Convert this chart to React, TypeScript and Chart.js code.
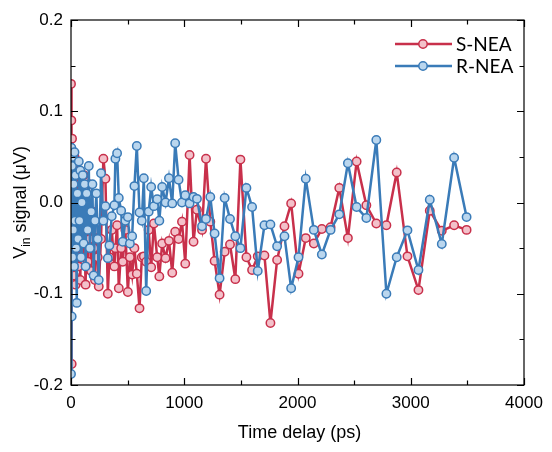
import React, { useEffect, useRef } from "react";
import { Chart, registerables } from "chart.js";

Chart.register(...registerables);

// ---- data (time delay in ps, signal in µV) ----
const delays = [
  0, 3, 6, 9, 12, 15, 19, 23, 27, 31,
  36, 41, 46, 51, 57, 63, 69, 75, 82, 89,
  96, 104, 112, 120, 129, 138, 147, 157, 167, 178,
  189, 200, 212, 224, 236, 245, 265, 286, 304, 325,
  339, 360, 383, 392, 407, 422, 443, 457, 480, 502,
  520, 540, 560, 581, 605, 625, 643, 664, 686, 708,
  732, 761, 780, 805, 835, 865, 894, 920, 950, 980,
  1009, 1047, 1082, 1112, 1157, 1192, 1230, 1268, 1312, 1357,
  1404, 1451, 1496, 1549, 1599, 1649, 1708, 1761, 1820, 1885,
  1944, 2009, 2073, 2144, 2215, 2292, 2369, 2445, 2522, 2608,
  2696, 2785, 2876, 2971, 3068, 3168, 3274, 3383, 3493,
];

const sNEA = [
  0.13, 0.09, -0.177, 0.07, -0.03, 0.04, -0.06, 0.02, -0.08, 0.05,
  -0.04, -0.09, 0.01, -0.05, 0.045, -0.07, -0.02, 0.035, -0.085, -0.03,
  0.0, -0.06, 0.03, -0.045, -0.09, -0.02, -0.065, 0.02, -0.04, -0.075,
  -0.01, -0.05, -0.085, -0.03, -0.06, -0.092, -0.04, 0.048, 0.026, -0.1,
  -0.06, -0.03, -0.07, -0.05, -0.025, -0.094, -0.05, -0.065, -0.03, -0.098,
  -0.06, -0.079, -0.05, -0.078, -0.116, -0.06, -0.059, -0.065, -0.03, -0.071,
  -0.023, -0.06, -0.081, -0.045, -0.061, -0.042, -0.077, -0.032, -0.04, -0.021,
  -0.067, 0.052, -0.043, -0.008, -0.03, 0.048, -0.021, -0.064, -0.101, -0.054,
  -0.046, -0.084, 0.047, -0.06, -0.074, -0.059, -0.058, -0.132, -0.063, -0.026,
  -0.001, -0.078, -0.039, -0.045, -0.029, -0.027, 0.016, -0.039, 0.045, -0.003,
  -0.023, -0.025, 0.033, -0.059, -0.096, -0.009, -0.031, -0.025, -0.03,
];

const rNEA = [
  -0.188, 0.06, -0.125, 0.04, -0.06, 0.05, -0.03, 0.02, -0.07, 0.055,
  -0.02, 0.03, -0.05, -0.11, 0.01, -0.04, 0.045, -0.02, 0.035, -0.06,
  0.0, 0.03, -0.045, 0.02, -0.07, 0.01, -0.03, 0.04, -0.05, -0.01,
  0.02, -0.08, -0.02, 0.01, -0.04, -0.085, 0.032, -0.02, -0.004, -0.061,
  -0.047, -0.015, -0.003, 0.048, 0.054, 0.005, -0.009, -0.043, -0.02, -0.016,
  -0.045, -0.037, 0.018, 0.062, -0.011, -0.02, 0.0265, -0.097, -0.01, 0.017,
  -0.004, 0.0035, -0.02, 0.017, 0.0, 0.0265, -0.001, 0.065, 0.025, 0.0,
  0.008, -0.001, 0.006, 0.004, -0.026, -0.018, 0.006, -0.034, -0.083, 0.005,
  -0.018, -0.037, -0.05, 0.016, -0.005, -0.075, -0.025, -0.024, -0.048, -0.037,
  -0.094, -0.06, 0.026, -0.03, -0.057, -0.03, -0.013, 0.043, -0.005, -0.017,
  0.0685, -0.1, -0.06, -0.0305, -0.074, 0.003, -0.0455, 0.049, -0.016,
];

const seriesNames = ["S-NEA", "R-NEA"];
const xRange = [0, 4000];
const yRange = [-0.2, 0.2];

// ---- style ----
const RED = "#C8304B";
const RED_FILL = "#F3C1CA";
const BLUE = "#3A7BB8";
const BLUE_FILL = "#BAD6EE";
const FONT = "'Liberation Sans', Arial, sans-serif";
const LEGEND_FONT = "'Liberation Sans Narrow', 'Arial Narrow', Lato, sans-serif";

const framePlugin = {
  id: "frame",
  afterDraw(chart: any) {
    const { ctx, chartArea: a, scales } = chart;
    const xs = scales.x;
    const ys = scales.y;
    ctx.save();
    ctx.strokeStyle = "#000";
    ctx.lineWidth = 1.2;
    ctx.strokeRect(a.left, a.top, a.right - a.left, a.bottom - a.top);
    ctx.beginPath();
    xs.ticks.forEach((t: any) => {
      const major = Math.round(t.value) % 1000 === 0;
      const len = major ? 7 : 4.5;
      const px = Math.round(xs.getPixelForValue(t.value)) + 0.5;
      ctx.moveTo(px, a.bottom);
      ctx.lineTo(px, a.bottom - len);
      ctx.moveTo(px, a.top);
      ctx.lineTo(px, a.top + len);
    });
    ys.ticks.forEach((t: any) => {
      const major = Math.round(t.value * 100) % 10 === 0;
      const len = major ? 7 : 4.5;
      const py = Math.round(ys.getPixelForValue(t.value)) + 0.5;
      ctx.moveTo(a.left, py);
      ctx.lineTo(a.left + len, py);
      ctx.moveTo(a.right, py);
      ctx.lineTo(a.right - len, py);
    });
    ctx.stroke();

    // x title
    ctx.fillStyle = "#000";
    ctx.font = `18px ${FONT}`;
    ctx.textAlign = "center";
    ctx.textBaseline = "alphabetic";
    ctx.fillText("Time delay (ps)", (a.left + a.right) / 2 + 2, 438);

    // y title with subscript
    ctx.save();
    ctx.translate(20, (a.top + a.bottom) / 2);
    ctx.rotate(-Math.PI / 2);
    const big = `18px ${FONT}`;
    const small = `12px ${FONT}`;
    ctx.textAlign = "left";
    ctx.textBaseline = "alphabetic";
    ctx.font = big;
    const w1 = ctx.measureText("V").width;
    const w3 = ctx.measureText(" signal (\u03BCV)").width;
    ctx.font = small;
    const w2 = ctx.measureText("in").width;
    let sx = -(w1 + w2 + w3) / 2;
    const base = 6;
    ctx.font = big;
    ctx.fillText("V", sx, base);
    sx += w1;
    ctx.font = small;
    ctx.fillText("in", sx, base + 4);
    sx += w2;
    ctx.font = big;
    ctx.fillText(" signal (\u03BCV)", sx, base);
    ctx.restore();

    // legend
    const items = [
      { name: seriesNames[0], line: RED, fill: RED_FILL, y: 44 },
      { name: seriesNames[1], line: BLUE, fill: BLUE_FILL, y: 66 },
    ];
    items.forEach((it) => {
      ctx.strokeStyle = it.line;
      ctx.lineWidth = 2.5;
      ctx.beginPath();
      ctx.moveTo(395, it.y);
      ctx.lineTo(452, it.y);
      ctx.stroke();
      ctx.beginPath();
      ctx.arc(423, it.y, 4.2, 0, Math.PI * 2);
      ctx.fillStyle = it.fill;
      ctx.fill();
      ctx.lineWidth = 1.5;
      ctx.stroke();
      ctx.fillStyle = "#000";
      ctx.font = `19px ${LEGEND_FONT}`;
      ctx.textAlign = "left";
      ctx.textBaseline = "middle";
      ctx.fillText(it.name, 456, it.y + 1);
    });
    ctx.restore();
  },
};

export default function App() {
  const ref = useRef<HTMLCanvasElement | null>(null);

  useEffect(() => {
    document.body.style.margin = "0";
    const canvas = ref.current;
    if (!canvas) return;
    const chart = new Chart(canvas, {
      type: "line",
      data: {
        datasets: [
          {
            label: seriesNames[0],
            data: delays.map((d, i) => ({ x: d, y: sNEA[i] })),
            borderColor: RED,
            backgroundColor: RED_FILL,
            pointBackgroundColor: RED_FILL,
            pointBorderColor: RED,
            pointBorderWidth: 1.5,
            pointRadius: 4.2,
            borderWidth: 2.5,
            tension: 0,
            fill: false,
            order: 2,
          },
          {
            label: seriesNames[1],
            data: delays.map((d, i) => ({ x: d, y: rNEA[i] })),
            borderColor: BLUE,
            backgroundColor: BLUE_FILL,
            pointBackgroundColor: BLUE_FILL,
            pointBorderColor: BLUE,
            pointBorderWidth: 1.5,
            pointRadius: 4.2,
            borderWidth: 2.5,
            tension: 0,
            fill: false,
            order: 1,
          },
        ],
      },
      options: {
        animation: false,
        responsive: false,
        devicePixelRatio: 1,
        layout: { padding: { top: 20, right: 28, left: 0, bottom: 0 } },
        plugins: { legend: { display: false }, tooltip: { enabled: false } },
        scales: {
          x: {
            type: "linear",
            min: xRange[0],
            max: xRange[1],
            grid: { display: false, drawTicks: false },
            border: { display: false },
            ticks: {
              stepSize: 500,
              autoSkip: false,
              maxRotation: 0,
              padding: 8,
              color: "#000",
              font: { family: FONT, size: 17 },
              callback: (v: any) => (Math.round(v) % 1000 === 0 ? String(v) : ""),
            },
            afterFit: (s: any) => {
              s.height = 67;
            },
          },
          y: {
            type: "linear",
            min: yRange[0],
            max: yRange[1],
            grid: { display: false, drawTicks: false },
            border: { display: false },
            ticks: {
              stepSize: 0.05,
              autoSkip: false,
              padding: 8,
              color: "#000",
              font: { family: FONT, size: 17 },
              callback: (v: any) => {
                const n = Math.round(v * 100);
                if (n % 10 !== 0) return "";
                if (n === 0) return "0.0";
                return (n / 100).toFixed(1);
              },
            },
            afterFit: (s: any) => {
              s.width = 71;
            },
          },
        },
      },
      plugins: [framePlugin],
    });
    return () => chart.destroy();
  }, []);

  return (
    <div style={{ width: 552, height: 452, background: "#fff" }}>
      <canvas ref={ref} width={552} height={452} style={{ display: "block" }} />
    </div>
  );
}
